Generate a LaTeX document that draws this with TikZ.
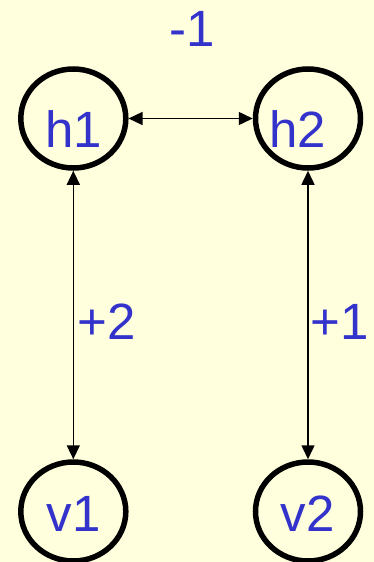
\documentclass[tikz,border=0pt]{standalone}
\usepackage{fontspec}
\setmainfont{Liberation Sans}
\usetikzlibrary{shapes.geometric,arrows.meta}
\definecolor{bgyellow}{RGB}{255,255,221}
\definecolor{labblue}{RGB}{51,51,204}
\begin{document}
\begin{tikzpicture}[x=1pt,y=-1pt,
  unit/.style={ellipse,draw=black,line width=5.5pt,minimum width=105pt,minimum height=99pt,inner sep=0pt},
  lab/.style={text=labblue,font=\fontsize{51}{51}\selectfont,anchor=base,inner sep=0pt},
  conn/.style={line width=1.5pt,{Triangle[length=14pt,width=13pt]}-{Triangle[length=14pt,width=13pt]}}]
\fill[bgyellow] (0,0) rectangle (374,562);
\useasboundingbox (0,0) rectangle (374,562);
\node[unit] (h1) at (73.3,118.5) {};
\node[unit] (h2) at (308,118.5) {};
\node[unit] (v1) at (73.3,511.5) {};
\node[unit] (v2) at (308,511.5) {};
\draw[conn] (h1.east) -- (h2.west);
\draw[conn] (h1.south) -- (v1.north);
\draw[conn] (h2.south) -- (v2.north);
\node[lab] (th1) at (74,147) {h1};
\node[lab] (th2) at (297.5,147) {h2};
\node[lab] (tv1) at (73.5,531.7) {v1};
\node[lab] (tv2) at (307.5,531.7) {v2};
\node[lab] (w12) at (192,46.7) {-1};
\node[lab] (w11) at (106.5,339.3) {+2};
\node[lab] (w22) at (340,339.3) {+1};
\end{tikzpicture}
\end{document}
